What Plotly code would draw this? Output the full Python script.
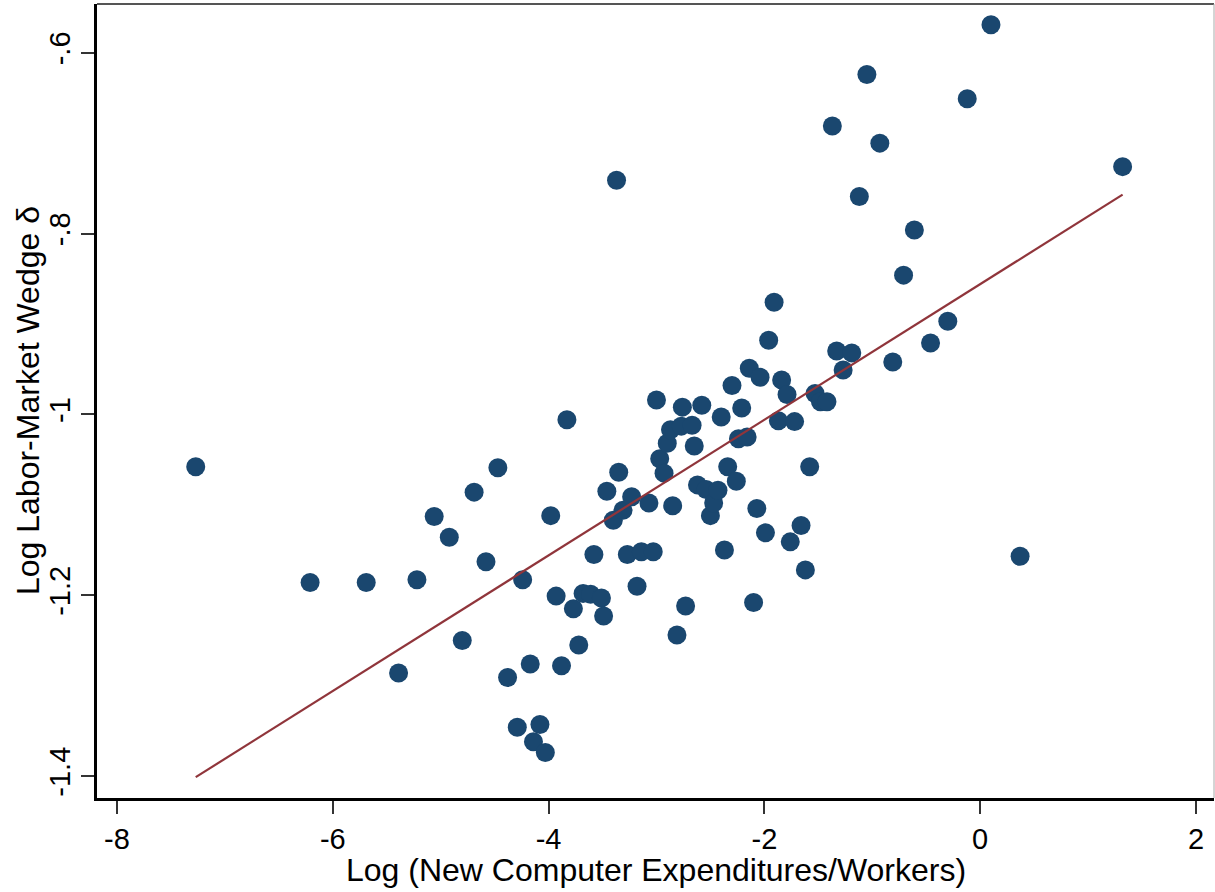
import plotly.graph_objects as go

# Log (New Computer Expenditures/Workers)
x_vals = [-7.27, -6.21, -5.69, -5.39, -5.22, -5.06, -4.92, -4.80, -4.69, -4.58,
          -4.47, -4.38, -4.29, -4.24, -4.17, -4.14, -4.08, -4.03, -3.98, -3.93,
          -3.88, -3.83, -3.77, -3.72, -3.68, -3.61, -3.51, -3.49, -3.58, -3.46,
          -3.40, -3.35, -3.31, -3.23, -3.27, -3.14, -3.03, -3.18, -3.07, -3.37,
          -3.00, -2.97, -2.93, -2.90, -2.87, -2.85, -2.81, -2.77, -2.76, -2.73,
          -2.67, -2.65, -2.62, -2.58, -2.54, -2.50, -2.47, -2.43, -2.40, -2.37,
          -2.34, -2.30, -2.26, -2.24, -2.21, -2.16, -2.14, -2.10, -2.07, -2.04,
          -1.99, -1.96, -1.91, -1.87, -1.84, -1.79, -1.76, -1.72, -1.66, -1.62,
          -1.58, -1.53, -1.48, -1.42, -1.37, -1.33, -1.27, -1.19, -1.12, -1.05,
          -0.93, -0.81, -0.71, -0.61, -0.46, -0.30, -0.12, 0.10, 0.37, 1.32]

# Log Labor-Market Wedge delta
y_vals = [-1.058, -1.186, -1.186, -1.286, -1.183, -1.113, -1.136, -1.250, -1.086, -1.163,
          -1.059, -1.291, -1.346, -1.183, -1.276, -1.362, -1.343, -1.374, -1.112, -1.201,
          -1.278, -1.006, -1.215, -1.255, -1.198, -1.199, -1.203, -1.223, -1.155, -1.085,
          -1.117, -1.064, -1.106, -1.091, -1.155, -1.152, -1.152, -1.190, -1.098, -0.741,
          -0.984, -1.049, -1.065, -1.032, -1.017, -1.101, -1.244, -1.013, -0.992, -1.212,
          -1.012, -1.035, -1.078, -0.990, -1.083, -1.112, -1.098, -1.084, -1.003, -1.150,
          -1.058, -0.968, -1.074, -1.027, -0.993, -1.025, -0.949, -1.208, -1.104, -0.959,
          -1.131, -0.918, -0.876, -1.007, -0.962, -0.978, -1.141, -1.008, -1.123, -1.172,
          -1.058, -0.977, -0.986, -0.986, -0.681, -0.930, -0.951, -0.932, -0.759, -0.624,
          -0.700, -0.942, -0.846, -0.796, -0.921, -0.897, -0.651, -0.569, -1.157, -0.726]

# Linear fit
fit_slope = 0.0750
fit_intercept = -0.856

x_ticks = [-8, -6, -4, -2, 0, 2]
x_ticktext = ["-8", "-6", "-4", "-2", "0", "2"]
y_ticks = [-0.6, -0.8, -1.0, -1.2, -1.4]
y_ticktext = ["-.6", "-.8", "-1", "-1.2", "-1.4"]

x_title = "Log (New Computer Expenditures/Workers)"
y_title = "Log Labor-Market Wedge δ"

fit_x = [min(x_vals), max(x_vals)]
fit_y = [fit_intercept + fit_slope * v for v in fit_x]

NAVY = "#1a476f"
MAROON = "#90353b"
FONT = "Liberation Sans, Arial, Helvetica, sans-serif"

fig = go.Figure()
fig.add_trace(go.Scatter(
    x=x_vals, y=y_vals, mode="markers",
    marker=dict(size=19, color=NAVY, line=dict(width=0)),
    showlegend=False, hoverinfo="x+y"))
fig.add_trace(go.Scatter(
    x=fit_x, y=fit_y, mode="lines",
    line=dict(color=MAROON, width=2.2),
    showlegend=False, hoverinfo="skip"))

fig.update_layout(
    width=1215, height=892,
    margin=dict(l=97, r=1, t=4, b=94, autoexpand=False),
    paper_bgcolor="white", plot_bgcolor="white",
    font=dict(family=FONT, color="black", size=29),
    xaxis=dict(range=[-8.185, 2.167], tickvals=x_ticks, ticktext=x_ticktext,
               showgrid=False, zeroline=False, showline=True, linecolor="black",
               linewidth=2.5, ticks="outside", ticklen=13, tickwidth=1.5,
               tickcolor="#333", tickfont=dict(size=29, family=FONT),
               automargin=False),
    yaxis=dict(range=[-1.4243, -0.5461], tickvals=y_ticks, ticktext=y_ticktext,
               showgrid=False, zeroline=False, showline=True, linecolor="black",
               linewidth=2.5, ticks="outside", ticklen=13, tickwidth=1.5,
               tickcolor="#333", tickangle=-90, tickfont=dict(size=29, family=FONT),
               automargin=False),
    shapes=[
        dict(type="line", xref="paper", yref="paper", x0=0, x1=1, y0=1, y1=1,
             line=dict(color="#555555", width=2)),
        dict(type="line", xref="paper", yref="paper", x0=1, x1=1, y0=0, y1=1,
             line=dict(color="#aaaaaa", width=1)),
    ],
    annotations=[
        dict(text=x_title, xref="paper", yref="paper", x=0.5, y=0,
             xanchor="center", yanchor="middle", yshift=-72, showarrow=False,
             font=dict(size=32, family=FONT, color="black")),
        dict(text=y_title, xref="paper", yref="paper", x=0, y=0.5,
             xanchor="center", yanchor="middle", xshift=-69, textangle=-90,
             showarrow=False, font=dict(size=32, family=FONT, color="black")),
    ],
)

fig.write_html("out.html")
